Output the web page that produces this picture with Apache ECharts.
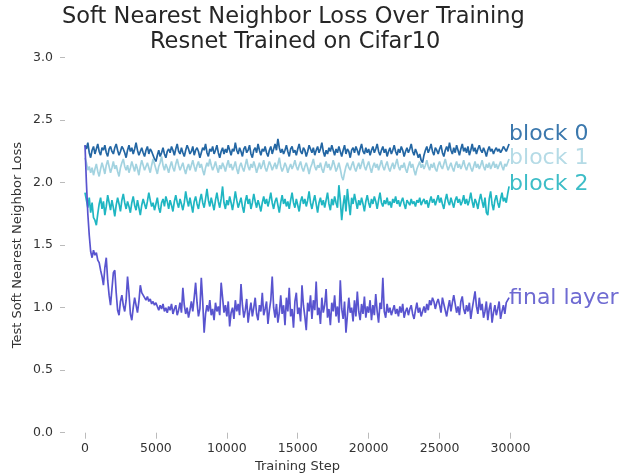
<!DOCTYPE html>
<html>
<head>
<meta charset="utf-8">
<script src="https://cdn.jsdelivr.net/npm/echarts@6/dist/echarts.min.js"></script>
<style>
  html, body { margin: 0; padding: 0; background: #fff; }
  #chart { width: 625px; height: 474px; }
</style>
</head>
<body>
<div id="chart"></div>
<script>
// Test loss logged every 100 training steps, 0 .. 29900
const stepSize = 100;

const block0 = [
  2.30,2.27,2.32,2.24,2.20,2.26,2.29,2.23,2.27,2.31,
  2.25,2.22,2.28,2.26,2.30,2.24,2.21,2.27,2.29,2.25,
  2.23,2.28,2.31,2.26,2.22,2.25,2.29,2.27,2.24,2.20,
  2.26,2.30,2.25,2.28,2.23,2.27,2.32,2.26,2.22,2.25,
  2.28,2.24,2.21,2.26,2.29,2.23,2.27,2.25,2.22,2.19,
  2.17,2.22,2.26,2.21,2.24,2.28,2.23,2.20,2.25,2.27,
  2.24,2.29,2.26,2.22,2.27,2.31,2.25,2.23,2.28,2.24,
  2.21,2.26,2.30,2.27,2.23,2.25,2.29,2.22,2.26,2.28,
  2.25,2.20,2.24,2.28,2.26,2.31,2.24,2.21,2.27,2.25,
  2.29,2.23,2.26,2.30,2.24,2.20,2.25,2.28,2.23,2.27,
  2.24,2.30,2.26,2.22,2.27,2.25,2.32,2.26,2.23,2.28,
  2.25,2.21,2.27,2.29,2.24,2.26,2.30,2.23,2.20,2.26,
  2.28,2.24,2.31,2.26,2.22,2.27,2.25,2.29,2.24,2.21,
  2.26,2.29,2.23,2.27,2.31,2.26,2.35,2.28,2.24,2.27,
  2.23,2.26,2.30,2.25,2.21,2.27,2.29,2.24,2.26,2.22,
  2.27,2.31,2.25,2.23,2.28,2.26,2.21,2.25,2.30,2.27,
  2.24,2.28,2.22,2.26,2.29,2.24,2.27,2.32,2.25,2.21,
  2.26,2.23,2.28,2.25,2.30,2.26,2.22,2.27,2.24,2.29,
  2.25,2.21,2.26,2.30,2.23,2.27,2.25,2.20,2.26,2.28,
  2.24,2.29,2.26,2.22,2.27,2.31,2.25,2.23,2.28,2.24,
  2.27,2.22,2.26,2.29,2.24,2.27,2.31,2.25,2.22,2.26,
  2.29,2.24,2.27,2.21,2.25,2.28,2.23,2.26,2.30,2.25,
  2.22,2.27,2.24,2.29,2.26,2.21,2.25,2.28,2.24,2.27,
  2.31,2.25,2.22,2.27,2.24,2.20,2.23,2.18,2.16,2.22,
  2.26,2.29,2.24,2.27,2.31,2.25,2.22,2.28,2.26,2.23,
  2.27,2.30,2.24,2.21,2.26,2.29,2.25,2.32,2.26,2.23,
  2.28,2.24,2.30,2.26,2.22,2.27,2.31,2.25,2.28,2.24,
  2.29,2.22,2.26,2.31,2.25,2.28,2.23,2.27,2.30,2.26,
  2.24,2.28,2.25,2.21,2.26,2.29,2.25,2.27,2.23,2.26,
  2.28,2.25,2.27,2.24,2.26,2.29,2.27,2.25,2.28,2.31];

const block1 = [
  2.20,2.16,2.10,2.13,2.08,2.12,2.06,2.11,2.15,2.09,
  2.05,2.11,2.16,2.12,2.07,2.14,2.18,2.13,2.08,2.12,
  2.17,2.11,2.14,2.09,2.05,2.12,2.16,2.19,2.13,2.10,
  2.14,2.08,2.12,2.17,2.13,2.09,2.15,2.11,2.06,2.13,
  2.18,2.14,2.10,2.13,2.16,2.12,2.08,2.14,2.19,2.15,
  2.11,2.07,2.13,2.16,2.21,2.14,2.10,2.15,2.12,2.08,
  2.13,2.17,2.12,2.09,2.15,2.19,2.14,2.10,2.13,2.16,
  2.11,2.07,2.12,2.15,2.10,2.14,2.18,2.13,2.09,2.14,
  2.17,2.12,2.15,2.10,2.06,2.12,2.16,2.13,2.19,2.14,
  2.10,2.13,2.17,2.12,2.08,2.14,2.11,2.16,2.13,2.09,
  2.14,2.18,2.12,2.15,2.10,2.13,2.17,2.11,2.07,2.13,
  2.16,2.12,2.09,2.14,2.19,2.13,2.10,2.15,2.12,2.17,
  2.13,2.08,2.12,2.16,2.11,2.14,2.18,2.12,2.09,2.13,
  2.17,2.14,2.10,2.13,2.16,2.11,2.15,2.20,2.13,2.09,
  2.12,2.16,2.13,2.08,2.12,2.15,2.11,2.14,2.18,2.13,
  2.10,2.14,2.17,2.12,2.09,2.13,2.16,2.12,2.07,2.12,
  2.15,2.19,2.13,2.10,2.14,2.12,2.16,2.11,2.08,2.13,
  2.17,2.12,2.15,2.10,2.13,2.18,2.14,2.09,2.12,2.16,
  2.11,2.05,2.02,2.08,2.13,2.16,2.12,2.10,2.14,2.17,
  2.12,2.09,2.13,2.16,2.11,2.15,2.19,2.13,2.10,2.14,
  2.17,2.12,2.08,2.13,2.16,2.12,2.15,2.10,2.14,2.18,
  2.13,2.10,2.14,2.17,2.12,2.09,2.13,2.16,2.11,2.15,
  2.19,2.13,2.10,2.14,2.12,2.16,2.11,2.08,2.13,2.17,
  2.12,2.15,2.10,2.06,2.11,2.14,2.17,2.12,2.15,2.11,
  2.14,2.18,2.13,2.10,2.15,2.12,2.16,2.11,2.09,2.14,
  2.17,2.13,2.11,2.15,2.19,2.14,2.10,2.13,2.16,2.12,
  2.09,2.14,2.17,2.12,2.15,2.11,2.14,2.18,2.13,2.10,
  2.14,2.16,2.12,2.09,2.13,2.17,2.12,2.15,2.11,2.14,
  2.18,2.13,2.10,2.15,2.12,2.16,2.11,2.14,2.17,2.12,
  2.15,2.11,2.14,2.17,2.13,2.10,2.15,2.13,2.16,2.19];

const block2 = [
  1.92,1.86,1.80,1.88,1.76,1.84,1.72,1.70,1.66,1.75,
  1.83,1.88,1.79,1.85,1.74,1.81,1.90,1.84,1.78,1.86,
  1.80,1.73,1.82,1.88,1.83,1.77,1.86,1.91,1.84,1.79,
  1.85,1.81,1.76,1.84,1.89,1.82,1.78,1.86,1.80,1.74,
  1.82,1.87,1.83,1.79,1.85,1.92,1.86,1.81,1.84,1.78,
  1.83,1.88,1.80,1.76,1.84,1.87,1.81,1.89,1.85,1.79,
  1.86,1.82,1.77,1.85,1.90,1.84,1.80,1.87,1.83,1.78,
  1.84,1.93,1.86,1.81,1.88,1.82,1.76,1.85,1.89,1.83,
  1.79,1.86,1.91,1.84,1.80,1.87,1.95,1.86,1.81,1.88,
  1.83,1.78,1.86,1.92,1.85,1.80,1.87,1.97,1.84,1.79,
  1.86,1.82,1.89,1.84,1.78,1.85,1.93,1.86,1.80,1.84,
  1.88,1.81,1.76,1.85,1.90,1.83,1.87,1.79,1.84,1.91,
  1.85,1.80,1.86,1.82,1.77,1.84,1.89,1.83,1.87,1.81,
  1.86,1.92,1.84,1.79,1.85,1.88,1.82,1.76,1.84,1.90,
  1.83,1.87,1.81,1.85,1.79,1.86,1.92,1.84,1.80,1.87,
  1.82,1.77,1.85,1.89,1.83,1.87,1.81,1.86,1.93,1.84,
  1.79,1.85,1.90,1.83,1.76,1.84,1.88,1.82,1.86,1.80,
  1.86,1.92,1.83,1.78,1.87,1.82,1.89,1.84,1.80,1.98,
  1.86,1.70,1.82,1.90,1.77,1.95,1.84,1.74,1.88,1.83,
  1.91,1.85,1.79,1.86,1.82,1.88,1.83,1.77,1.85,1.90,
  1.84,1.80,1.87,1.83,1.89,1.85,1.79,1.86,1.92,1.84,
  1.81,1.86,1.83,1.88,1.82,1.85,1.80,1.87,1.84,1.89,
  1.83,1.86,1.81,1.85,1.88,1.83,1.79,1.86,1.84,1.82,
  1.87,1.83,1.85,1.81,1.86,1.84,1.88,1.82,1.85,1.87,
  1.83,1.86,1.80,1.85,1.89,1.84,1.87,1.82,1.86,1.90,
  1.84,1.88,1.83,1.79,1.86,1.91,1.85,1.82,1.88,1.84,
  1.80,1.86,1.89,1.84,1.87,1.82,1.85,1.90,1.83,1.87,
  1.82,1.86,1.92,1.85,1.80,1.87,1.84,1.79,1.86,1.91,
  1.85,1.80,1.88,1.76,1.74,1.87,1.93,1.83,1.78,1.86,
  1.90,1.84,1.80,1.87,1.92,1.85,1.88,1.84,1.91,1.97];

const finalLayer = [
  2.30,2.00,1.75,1.58,1.45,1.40,1.46,1.42,1.44,1.38,
  1.36,1.30,1.25,1.18,1.32,1.40,1.22,1.10,1.02,1.15,
  1.28,1.30,1.12,0.98,0.94,1.05,1.10,1.02,0.97,1.06,
  1.25,1.12,0.95,0.90,1.00,1.08,1.02,0.96,1.05,1.18,
  1.12,1.10,1.08,1.06,1.09,1.05,1.07,1.03,1.05,1.02,
  1.04,1.01,0.98,1.02,0.99,1.03,0.97,1.00,0.96,1.01,
  0.98,1.03,0.95,0.99,1.02,0.94,0.98,1.04,0.96,1.16,
  1.02,0.95,1.00,0.92,0.98,1.05,0.97,1.08,1.20,1.04,
  0.93,0.99,1.24,1.05,0.80,0.95,1.02,0.97,1.06,0.94,
  0.99,0.90,1.04,0.97,1.01,0.94,1.20,1.08,0.96,1.02,
  0.93,1.05,0.85,0.96,1.00,0.91,1.06,0.97,1.03,0.94,
  1.19,1.02,0.92,0.98,1.07,0.88,0.97,1.04,0.93,1.00,
  1.08,0.95,0.90,1.02,0.97,1.12,0.94,0.99,1.05,0.87,
  0.98,1.06,1.25,1.00,0.92,1.03,0.88,0.96,1.10,0.95,
  1.02,0.86,1.08,0.97,1.16,0.93,0.99,0.84,1.05,1.12,
  0.95,1.00,0.89,1.18,1.02,0.93,0.82,1.04,0.97,1.10,
  0.91,1.06,0.98,1.21,0.94,1.00,0.87,1.08,0.96,1.02,
  1.15,0.92,0.99,0.86,1.04,0.97,1.10,0.93,1.01,0.88,
  1.22,0.99,0.91,1.05,0.80,0.94,1.08,0.96,1.00,0.89,
  1.06,0.93,1.13,0.97,0.90,1.03,0.95,1.09,0.92,1.01,
  0.96,1.06,0.90,1.02,0.94,1.11,0.97,0.88,1.04,0.99,
  1.24,0.97,0.92,1.03,0.96,1.00,0.94,0.98,1.02,0.95,
  0.99,0.93,1.01,0.96,1.03,0.92,0.97,1.00,0.94,0.99,
  1.02,0.95,0.91,0.98,1.04,0.96,1.00,0.93,0.97,1.01,
  0.96,1.03,0.98,1.06,1.02,1.08,1.05,0.99,1.04,1.07,
  1.02,0.96,1.08,1.03,0.98,0.93,1.00,1.06,0.97,1.04,
  1.10,1.03,0.96,1.01,0.94,1.05,1.09,0.99,0.95,1.02,
  0.97,1.04,0.91,0.99,1.06,1.13,1.01,0.95,1.08,0.98,
  1.03,0.92,0.97,1.05,0.90,0.99,1.04,0.88,0.96,1.02,
  0.94,0.99,1.05,0.91,0.97,1.02,0.95,1.04,1.06,1.08];

const seriesNames = ['block 0', 'block 1', 'block 2', 'final layer'];
const lineColors = ['#2366a3', '#a3d3e0', '#1fb6c2', '#5954cf'];
const labelColors = ['#3b78ad', '#b5dbe6', '#3dbdc7', '#6f6bd2'];
const labelOffsets = [[0, -10], [0, -1], [0, -2.5], [0, 1]];

const xTickValues = [0, 5000, 10000, 15000, 20000, 25000, 30000];
const yTickValues = [0, 0.5, 1.0, 1.5, 2.0, 2.5, 3.0];
// x range padded on both sides so the data starts a little right of the y ticks
const xRange = [-1410, 31375];
const yRange = [0, 3];

const font = '"DejaVu Sans", sans-serif';
const textColor = '#333333';
const tickStyle = { color: '#bbbbbb', width: 1 };

function pairs(values) {
  return values.map((v, i) => [i * stepSize, v]);
}

const chart = echarts.init(document.getElementById('chart'), null, { renderer: 'canvas' });
const seriesData = [block0, block1, block2, finalLayer];

chart.setOption({
  animation: false,
  backgroundColor: '#ffffff',
  textStyle: { fontFamily: font },
  grid: {
    left: 65, right: 95, top: 57.7, bottom: 41.3,
    containLabel: false, outerBoundsMode: 'none'
  },
  graphic: [
    {
      type: 'text', left: 62, top: 6,
      style: {
        text: 'Soft Nearest Neighbor Loss Over Training',
        font: '22.5px ' + font, fill: '#262626'
      }
    },
    {
      type: 'text', left: 150, top: 31,
      style: {
        text: 'Resnet Trained on Cifar10',
        font: '22.5px ' + font, fill: '#262626'
      }
    }
  ],
  xAxis: {
    type: 'value',
    min: xRange[0], max: xRange[1],
    name: 'Training Step',
    nameLocation: 'middle',
    nameGap: 27,
    nameMoveOverlap: false,
    nameTextStyle: { fontSize: 13, color: textColor, fontFamily: font },
    axisLine: { show: false, onZero: false },
    axisTick: { show: true, length: 6, lineStyle: tickStyle, customValues: xTickValues },
    axisLabel: {
      fontSize: 12.5, color: textColor, margin: 10, fontFamily: font,
      customValues: xTickValues,
      formatter: v => String(v)
    },
    splitLine: { show: false }
  },
  yAxis: {
    type: 'value',
    min: yRange[0], max: yRange[1],
    name: 'Test Soft Nearest Neighbor Loss',
    nameLocation: 'middle',
    nameGap: 41,
    nameMoveOverlap: false,
    nameTextStyle: { fontSize: 13, color: textColor, fontFamily: font },
    axisLine: { show: false, onZero: false },
    axisTick: { show: true, length: 5, lineStyle: tickStyle, customValues: yTickValues },
    axisLabel: {
      fontSize: 12.5, color: textColor, margin: 12, fontFamily: font,
      customValues: yTickValues,
      formatter: v => v.toFixed(1)
    },
    splitLine: { show: false }
  },
  series: seriesData.map((vals, k) => ({
    name: seriesNames[k],
    type: 'line',
    data: pairs(vals),
    showSymbol: false,
    symbol: 'none',
    lineStyle: { color: lineColors[k], width: 1.7 },
    itemStyle: { color: lineColors[k] },
    z: 2 + k,
    endLabel: {
      show: true,
      formatter: '{a}',
      distance: 0,
      offset: labelOffsets[k],
      color: labelColors[k],
      fontSize: 22,
      fontFamily: font
    }
  }))
});
</script>
</body>
</html>
